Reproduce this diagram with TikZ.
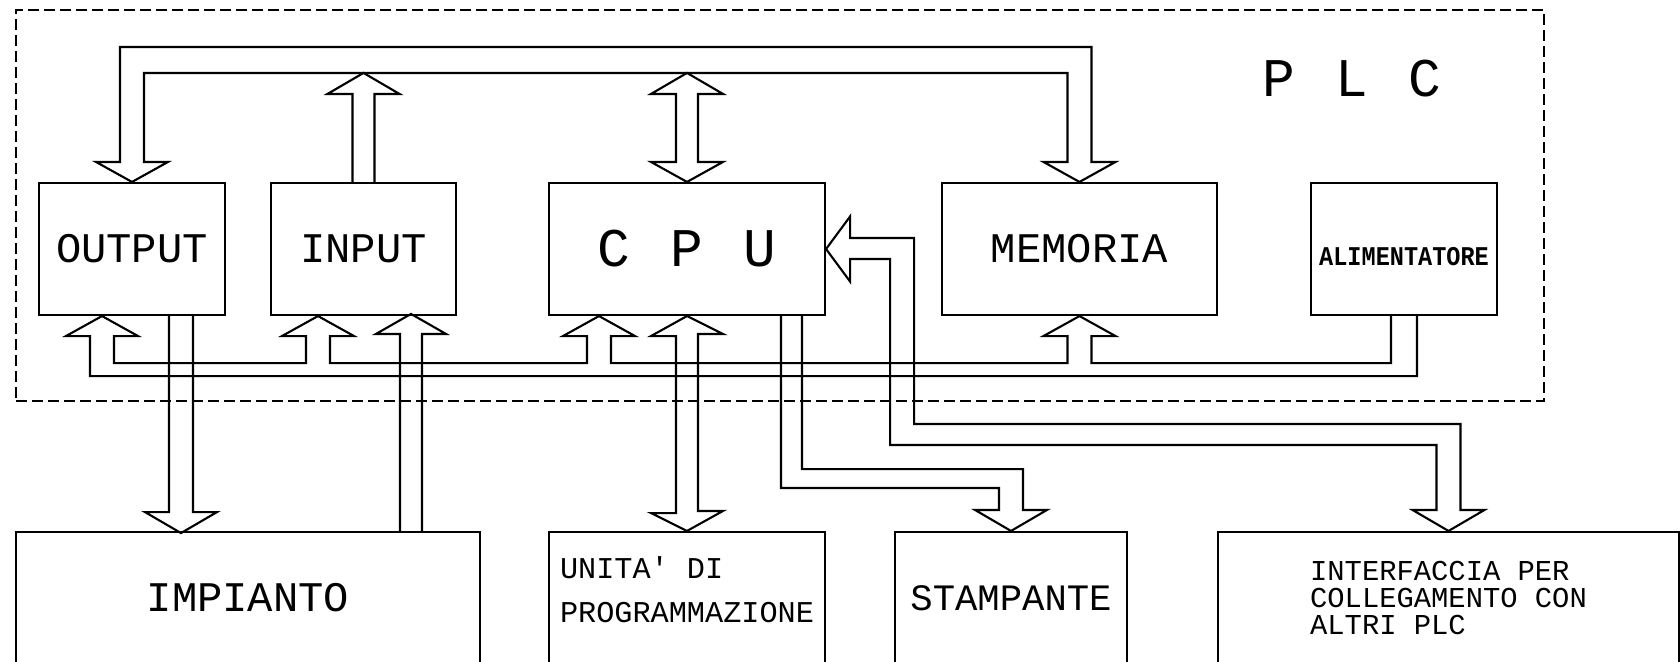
\documentclass[tikz,border=0pt]{standalone}
\usepackage{fontspec}
\newfontfamily\cadfont{Liberation Mono}
\newfontfamily\cadnarrow[FakeStretch=0.87]{Liberation Mono}
\usetikzlibrary{calc}

\begin{document}
\begin{tikzpicture}[
  line width=0.6pt,
  blk/.style={
    draw,
    minimum height=1.32cm,
    inner sep=0pt,
    font=\cadfont\fontsize{12}{14}\selectfont
  },
  bigtxt/.style={font=\cadfont\fontsize{15.5}{18}\selectfont},
  plcframe/.style={draw, dash pattern=on 0.11cm off 0.05cm, inner sep=0pt},
  bus/.style={line join=miter}
]
\useasboundingbox (0,0) rectangle (16.8,-6.61);

% ==================== PLC ====================
\node[plcframe, minimum width=15.28cm, minimum height=3.91cm] (plcbox) at (7.80,-2.055) {};
\node[bigtxt] (plc) at (13.52,-0.79) {P\hspace{0.4cm}L\hspace{0.4cm}C};

% Top row
\node[blk, minimum width=1.86cm] (output) at (1.32,-2.49) {OUTPUT};
\node[blk, minimum width=1.85cm] (input) at (3.635,-2.49) {INPUT};
\node[blk, bigtxt, minimum width=2.76cm] (cpu) at (6.87,-2.49) {C\hspace{0.4cm}P\hspace{0.4cm}U};
\node[blk, minimum width=2.75cm] (memoria) at (10.795,-2.49) {MEMORIA};
\node[blk, minimum width=1.86cm, font=\cadnarrow\bfseries\fontsize{7.7}{9}\selectfont] (alim) at (14.04,-2.49)
  {\raisebox{-0.075cm}[\height][\depth]{ALIMENTATORE}};

% ==================== OUTSIDE ====================
\node[blk, minimum width=4.64cm] (impianto) at (2.48,-5.98) {IMPIANTO};
\node[blk, minimum width=2.76cm, font=\cadfont\fontsize{8.6}{12.5}\selectfont] (progr) at (6.87,-5.98)
  {\raisebox{0.065cm}[\height][\depth]{\begin{tabular}{@{}l@{}}UNITA' DI\\PROGRAMMAZIONE\end{tabular}}};
\node[blk, minimum width=2.32cm, font=\cadfont\fontsize{10.6}{12}\selectfont] (stampante) at (10.11,-5.98) {STAMPANTE};
\node[blk, minimum width=4.61cm, align=left, font=\cadfont\fontsize{8.2}{7.8}\selectfont] (interf) at (14.485,-5.98) {INTERFACCIA PER\\COLLEGAMENTO CON\\ALTRI PLC};

% Top bus OUTPUT -- MEMORIA
\draw[bus] (output.north) -- ++(-0.36,0.2) -- ++(0.24,0) |- ($(memoria.north)+(0.12,1.35)$)
  -- ++(0,-1.15) -- ++(0.24,0) -- (memoria.north) -- ++(-0.36,0.2) -- ++(0.24,0)
  |- ($(output.north)+(0.12,1.09)$) -- ++(0,-0.89) -- ++(0.24,0) -- cycle;

% INPUT and CPU on the top bus
\draw[bus] ($(input.north)+(-0.11,0)$) -- ++(0,0.88) -- ++(-0.25,0) -- ++(0.36,0.21)
  -- ++(0.36,-0.21) -- ++(-0.25,0) -- ++(0,-0.88);
\draw[bus] (cpu.north) -- ++(-0.36,0.2) -- ++(0.25,0) -- ++(0,0.68) -- ++(-0.25,0)
  -- ++(0.36,0.21) -- ++(0.36,-0.21) -- ++(-0.25,0) -- ++(0,-0.68) -- ++(0.25,0) -- cycle;

% Bottom bus from ALIMENTATORE
\draw[bus] ($(alim.south)+(-0.13,0)$) -- ++(0,-0.47) -| ($(memoria.south)+(0.12,-0.2)$)
  -- ++(0.24,0) -- (memoria.south) -- ++(-0.36,-0.2) -- ++(0.24,0)
  |- ($(cpu.south)+(-0.76,-0.47)$) -- ++(0,0.27) -- ++(0.24,0) -- ($(cpu.south)+(-0.88,0)$)
  -- ++(-0.36,-0.2) -- ++(0.24,0)
  |- ($(input.south)+(-0.335,-0.47)$) -- ++(0,0.27) -- ++(0.24,0) -- ($(input.south)+(-0.455,0)$)
  -- ++(-0.36,-0.2) -- ++(0.24,0)
  |- ($(output.south)+(-0.18,-0.47)$) -- ++(0,0.27) -- ++(0.24,0) -- ($(output.south)+(-0.30,0)$)
  -- ++(-0.36,-0.2) -- ++(0.24,0)
  |- ($(alim.south)+(0.13,-0.60)$) -- ++(0,0.60);

% OUTPUT -> IMPIANTO, IMPIANTO -> INPUT
\draw[bus] ($(output.south)+(0.37,0)$) -- ++(0,-1.96) -- ++(-0.24,0) -- ++(0.36,-0.21)
  -- ++(0.36,0.21) -- ++(-0.24,0) -- ++(0,1.96);
\draw[bus] ($(impianto.north)+(1.52,0)$) -- ++(0,1.97) -- ++(-0.24,0) -- ++(0.35,0.2)
  -- ++(0.35,-0.2) -- ++(-0.24,0) -- ++(0,-1.97);

% CPU <-> UNITA' DI PROGRAMMAZIONE
\draw[bus] (cpu.south) -- ++(-0.36,-0.2) -- ++(0.25,0) -- ++(0,-1.77) -- ++(-0.25,0)
  -- (progr.north) -- ++(0.36,0.2) -- ++(-0.25,0) -- ++(0,1.77) -- ++(0.25,0) -- cycle;

% CPU -> STAMPANTE
\draw[bus] ($(cpu.south)+(0.94,0)$) |- ($(stampante.north)+(-0.12,0.43)$) -- ++(0,-0.22)
  -- ++(-0.24,0) -- (stampante.north) -- ++(0.36,0.21) -- ++(-0.24,0)
  |- ($(cpu.south)+(1.15,-1.53)$) -- ++(0,1.53);

% CPU <-> INTERFACCIA
\draw[bus] (cpu.east) -- ++(0.24,0.325) -- ++(0,-0.215) -| ($(cpu.east)+(0.88,-1.75)$)
  -| ($(interf.north)+(0.12,0.21)$) -- ++(0.24,0) -- (interf.north) -- ++(-0.36,0.21)
  -- ++(0.24,0) |- ($(cpu.east)+(0.64,-1.96)$) |- ($(cpu.east)+(0.24,-0.10)$)
  -- ++(0,-0.225) -- cycle;

\end{tikzpicture}
\end{document}
